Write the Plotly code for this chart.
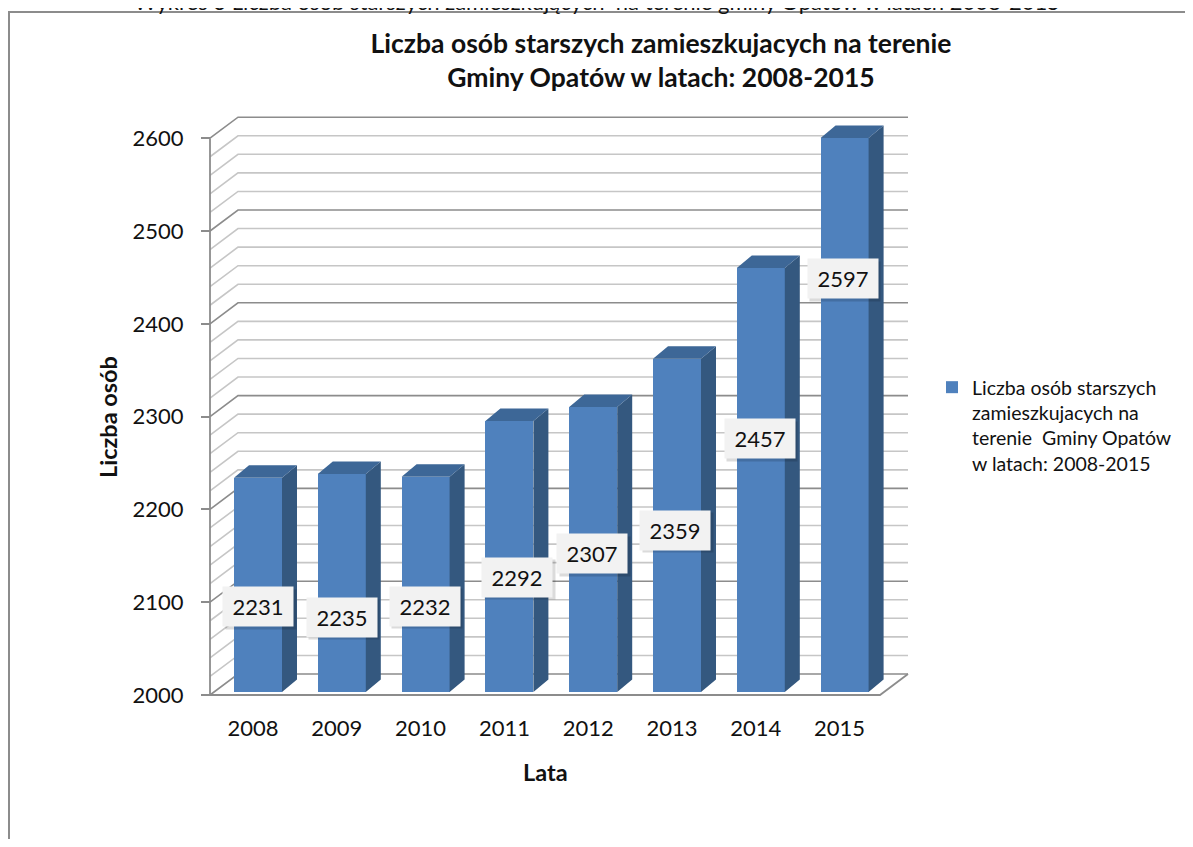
import plotly.graph_objects as go

# ---------------- data ----------------
years = ["2008", "2009", "2010", "2011", "2012", "2013", "2014", "2015"]
values = [2231, 2235, 2232, 2292, 2307, 2359, 2457, 2597]
y_tick_vals = [2000, 2100, 2200, 2300, 2400, 2500, 2600]
y_minor_step = 20
series_name = "Liczba osób starszych<br>zamieszkujacych na<br>terenie  Gminy Opatów<br>w latach: 2008-2015"
chart_title = "Liczba osób starszych zamieszkujacych na terenie<br>Gminy Opatów w latach: 2008-2015"
caption = "Wykres 3 Liczba osób starszych zamieszkujących  na terenie gminy Opatów w latach 2008-2015"
x_title = "Lata"
y_title = "Liczba osób"

# ---------------- geometry (screen pixels; page body has an 8px margin) ----------------
OFF = 8
SW, SH = 1193, 847
W, H = SW - 2 * OFF, SH - 2 * OFF


def S(p):
    return p - OFF


CAT0_PX = S(258.0)       # centre of first bar front face
PX_PER_CAT = 83.8
FLOOR_PX = S(695.0)      # y pixel of value 2000 on the front plane
PX_PER_UNIT = 0.928
Y_MIN, Y_MAX = 2000, 2600
AXIS_PX = S(210.0)       # x pixel of the front vertical axis
WALL_DX, WALL_DY = 28.0, 21.0
BAR_DX, BAR_DY = 15.0, 12.5
BAR_W_PX = 48.0
BAR_LIFT = 3.0
BACK_RIGHT_PX = S(908.0)

DOM_X = (S(185.0), S(935.0))
DOM_Y = (S(90.0), S(720.0))   # top, bottom


def px2x(p):
    return (p - CAT0_PX) / PX_PER_CAT


def px2v(p):
    return Y_MIN + (FLOOR_PX - p) / PX_PER_UNIT


def dxu(p):
    return p / PX_PER_CAT


def dyu(p):
    return p / PX_PER_UNIT


x_left = px2x(AXIS_PX)
x_back_right = px2x(BACK_RIGHT_PX)

FRONT = "#4f81bd"
SIDE = "#34587f"
TOP = "#3d6797"
MAJOR = "#8c8c8c"
MINOR = "#c6c6c6"
TXT = "#111111"
FONT = "Lato"

fig = go.Figure()
shapes = []


def path(pts):
    return "M " + " L ".join(f"{x:.5f},{y:.5f}" for x, y in pts)


# gridlines on the left wall and back wall (drawn below the bars)
for v in range(Y_MIN, Y_MAX + 1, y_minor_step):
    major = v % 100 == 0
    shapes.append(dict(type="path", xref="x", yref="y", layer="below",
                       path=path([(x_left, v), (x_left + dxu(WALL_DX), v + dyu(WALL_DY)),
                                  (x_back_right, v + dyu(WALL_DY))]),
                       line=dict(color=MAJOR if major else MINOR, width=1.6)))
# floor front edge and vertical axis line
shapes.append(dict(type="path", xref="x", yref="y", layer="below",
                   path=path([(x_left, Y_MIN), (x_back_right - dxu(WALL_DX), Y_MIN),
                              (x_back_right, Y_MIN + dyu(WALL_DY))]),
                   line=dict(color=MAJOR, width=1.8)))
shapes.append(dict(type="path", xref="x", yref="y", layer="below",
                   path=path([(x_left, Y_MIN), (x_left, Y_MAX)]),
                   line=dict(color=MAJOR, width=1.8)))
# outer frame
shapes.append(dict(type="rect", xref="paper", yref="paper",
                   x0=S(9) / W, x1=1.05, y0=-0.05, y1=1 - S(12) / H,
                   line=dict(color="#8c8c8c", width=2), layer="below"))

# bar side & top faces
base = Y_MIN + dyu(BAR_LIFT)
bw = dxu(BAR_W_PX)
sx, sy, tx, ty = [], [], [], []
for i, v in enumerate(values):
    top = v + dyu(BAR_LIFT)
    xl, xr = i - bw / 2, i + bw / 2
    sx += [xr, xr + dxu(BAR_DX), xr + dxu(BAR_DX), xr, xr, None]
    sy += [base, base + dyu(BAR_DY), top + dyu(BAR_DY), top, base, None]
    tx += [xl, xl + dxu(BAR_DX), xr + dxu(BAR_DX), xr, xl, None]
    ty += [top, top + dyu(BAR_DY), top + dyu(BAR_DY), top, top, None]
fig.add_trace(go.Scatter(x=sx, y=sy, mode="lines", fill="toself", fillcolor=SIDE,
                         line=dict(width=0, color=SIDE), hoverinfo="skip", showlegend=False))
fig.add_trace(go.Scatter(x=tx, y=ty, mode="lines", fill="toself", fillcolor=TOP,
                         line=dict(width=0, color=TOP), hoverinfo="skip", showlegend=False))

# bar front faces
fig.add_trace(go.Bar(
    x=list(range(len(years))), y=[v - Y_MIN for v in values], base=base,
    width=bw, marker=dict(color=FRONT, line=dict(width=0)),
    name=series_name, showlegend=True, hovertemplate="%{customdata}<extra></extra>",
    customdata=values))

# data labels
LABEL_DX = [0, 0, -1, 8, -1, -2, -1, -2]
LABEL_Y_PX = [606.5, 617, 606, 577, 553.5, 530, 438.5, 278.5]   # screen px
annotations = []
for i, v in enumerate(values):
    common = dict(x=i, y=px2v(S(LABEL_Y_PX[i])), xref="x", yref="y", showarrow=False,
                  width=66, height=35, borderpad=2)
    annotations.append(dict(common, text="", bgcolor="rgba(0,0,0,0.14)",
                            xshift=LABEL_DX[i] + 2.5, yshift=-2.5))
    annotations.append(dict(common, text=str(v), bgcolor="#f2f2f2",
                            xshift=LABEL_DX[i],
                            font=dict(family=FONT, size=22, color=TXT)))

# axis titles and caption
annotations.append(dict(text=y_title, x=S(108) / W, y=1 - S(417) / H, xref="paper", yref="paper",
                        xanchor="center", yanchor="middle",
                        showarrow=False, textangle=-90,
                        font=dict(family=FONT, size=23.5, weight="bold", color=TXT)))
annotations.append(dict(text=x_title, x=S(545) / W, y=1 - S(772) / H, xref="paper", yref="paper",
                        xanchor="center", yanchor="middle", showarrow=False,
                        font=dict(family=FONT, size=23.5, weight="bold", color=TXT)))
annotations.append(dict(text=caption, x=S(597) / W, y=1 - S(1) / H, xref="paper", yref="paper",
                        xanchor="center", yanchor="middle", showarrow=False,
                        font=dict(family=FONT, size=22, color=TXT)))

fig.update_layout(
    width=W, height=H, margin=dict(l=0, r=0, t=0, b=0),
    paper_bgcolor="white", plot_bgcolor="rgba(0,0,0,0)",
    bargap=0, barmode="overlay",
    title=dict(text=chart_title, x=S(661) / W, xanchor="center", y=1 - S(53) / H, yanchor="middle",
               font=dict(family=FONT, size=26.5, weight="bold", color=TXT)),
    xaxis=dict(domain=[DOM_X[0] / W, DOM_X[1] / W],
               range=[px2x(DOM_X[0]), px2x(DOM_X[1])],
               anchor="free", position=1 - FLOOR_PX / H,
               tickmode="array", tickvals=list(range(len(years))), ticktext=years,
               ticks="", showgrid=False, zeroline=False, showline=False,
               ticklabelshift=-5, ticklabelstandoff=18,
               tickfont=dict(family=FONT, size=22, color=TXT), fixedrange=True),
    yaxis=dict(domain=[1 - DOM_Y[1] / H, 1 - DOM_Y[0] / H],
               range=[px2v(DOM_Y[1]), px2v(DOM_Y[0])],
               anchor="free", position=AXIS_PX / W,
               tickmode="array", tickvals=y_tick_vals, ticktext=[str(t) for t in y_tick_vals],
               ticks="outside", ticklen=9, tickwidth=1.6, tickcolor=MAJOR,
               ticklabelstandoff=13,
               showgrid=False, zeroline=False, showline=False,
               tickfont=dict(family=FONT, size=22, color=TXT), fixedrange=True),
    legend=dict(x=(S(972) - 40) / W, y=1 - S(368) / H, xanchor="left", yanchor="top",
                valign="top", bgcolor="rgba(0,0,0,0)",
                font=dict(family=FONT, size=19.5, color=TXT)),
    annotations=annotations,
    shapes=shapes,
)

fig.write_html("out.html")
